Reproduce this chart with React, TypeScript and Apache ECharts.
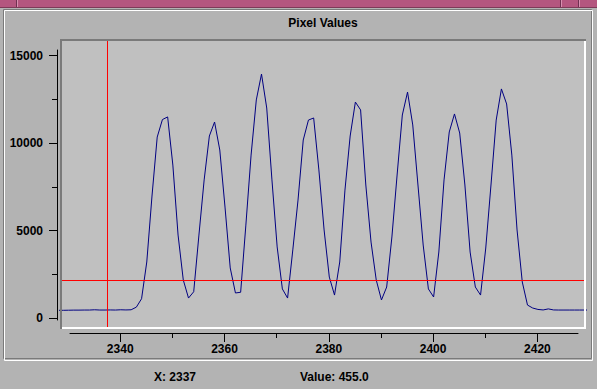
import React, { useEffect, useRef } from "react";
import * as echarts from "echarts";

// ---- data ----
const xValues = [
  2328, 2329, 2330, 2331, 2332, 2333, 2334, 2335, 2336, 2337, 2338, 2339,
  2340, 2341, 2342, 2343, 2344, 2345, 2346, 2347, 2348, 2349, 2350, 2351,
  2352, 2353, 2354, 2355, 2356, 2357, 2358, 2359, 2360, 2361, 2362, 2363,
  2364, 2365, 2366, 2367, 2368, 2369, 2370, 2371, 2372, 2373, 2374, 2375,
  2376, 2377, 2378, 2379, 2380, 2381, 2382, 2383, 2384, 2385, 2386, 2387,
  2388, 2389, 2390, 2391, 2392, 2393, 2394, 2395, 2396, 2397, 2398, 2399,
  2400, 2401, 2402, 2403, 2404, 2405, 2406, 2407, 2408, 2409, 2410, 2411,
  2412, 2413, 2414, 2415, 2416, 2417, 2418, 2419, 2420, 2421, 2422, 2423,
  2424, 2425, 2426, 2427, 2428, 2429, 2430,
];
const pixelValues = [
  440, 440, 445, 450, 450, 455, 455, 470, 455, 455, 460, 455,
  470, 460, 470, 620, 1100, 3200, 6970, 10340, 11340, 11490, 8740, 4740,
  2170, 1140, 1500, 4740, 7890, 10400, 11200, 9600, 6340, 2860, 1430, 1470,
  5310, 9310, 12460, 13940, 12000, 7890, 4060, 1660, 1140, 3890, 6740, 10170,
  11310, 11430, 8460, 5030, 2340, 1310, 3200, 7310, 10400, 12340, 11890, 7600,
  4340, 2170, 1030, 1770, 4630, 8170, 11600, 12910, 11030, 7600, 4170, 1660,
  1200, 3770, 7890, 10630, 11660, 10570, 7600, 3770, 1770, 1310, 4000, 7600,
  11310, 13090, 12230, 9310, 5030, 2060, 740, 570, 490, 460, 520, 460,
  455, 455, 455, 455, 455, 455, 455,
];
const xTickValues = [2340, 2360, 2380, 2400, 2420];
const xMinorTickValues = [2350, 2370, 2390, 2410];
const yTickValues = [0, 5000, 10000, 15000];
const yMinorTickValues = [2500, 7500, 12500];
const thresholdValue = 2170;
const cursorPosition = 2337.43;
const cursorX = 2337;
const cursorValue = 455.0;
const titleText = "Pixel Values";

const FONT = "'Liberation Sans', Arial, Helvetica, sans-serif";

export default function App() {
  const ref = useRef<HTMLDivElement>(null);

  useEffect(() => {
    if (!ref.current) return;
    const chart = echarts.init(ref.current, null, { renderer: "svg" });
    const seriesData = xValues.map((x, i) => [x, pixelValues[i]]);

    const labelStyle = {
      color: "#000",
      fontSize: 12,
      fontWeight: "bold" as const,
      fontFamily: FONT,
    };

    chart.setOption({
      animation: false,
      backgroundColor: "#b3b3b3",
      grid: [
        {
          left: 60,
          top: 39,
          width: 526,
          height: 290,
          show: true,
          backgroundColor: "#c0c0c0",
          borderWidth: 0,
        },
        { left: 70, top: 323, width: 508, height: 10 },
        { left: 57, top: 50, width: 10, height: 270 },
      ],
      xAxis: [
        { gridIndex: 0, type: "value", min: 2328.36, max: 2429.22, show: false },
        {
          gridIndex: 1,
          type: "value",
          min: 2330.374,
          max: 2427.785,
          position: "bottom",
          axisLine: { show: true, lineStyle: { color: "#000", width: 1 } },
          axisTick: {
            show: true,
            customValues: xTickValues,
            length: 9,
            lineStyle: { color: "#000", width: 1 },
          },
          axisLabel: {
            show: true,
            customValues: xTickValues,
            margin: 10,
            formatter: (v: number) => String(v),
            ...labelStyle,
          },
          splitLine: { show: false },
        },
        {
          gridIndex: 1,
          type: "value",
          min: 2330.374,
          max: 2427.785,
          position: "bottom",
          axisLine: { show: false },
          axisTick: {
            show: true,
            customValues: xMinorTickValues,
            length: 5,
            lineStyle: { color: "#000", width: 1 },
          },
          axisLabel: { show: false },
          splitLine: { show: false },
        },
        { gridIndex: 2, type: "value", show: false },
      ],
      yAxis: [
        { gridIndex: 0, type: "value", min: -628.6, max: 15943, show: false },
        { gridIndex: 1, type: "value", show: false },
        {
          gridIndex: 2,
          type: "value",
          min: -114.29,
          max: 15314.3,
          position: "left",
          axisLine: { show: true, lineStyle: { color: "#000", width: 1 } },
          axisTick: {
            show: true,
            customValues: yTickValues,
            length: 8,
            lineStyle: { color: "#000", width: 1 },
          },
          axisLabel: {
            show: true,
            customValues: yTickValues,
            margin: 14,
            formatter: (v: number) => String(v),
            ...labelStyle,
          },
          splitLine: { show: false },
        },
        {
          gridIndex: 2,
          type: "value",
          min: -114.29,
          max: 15314.3,
          position: "left",
          axisLine: { show: false },
          axisTick: {
            show: true,
            customValues: yMinorTickValues,
            length: 5,
            lineStyle: { color: "#000", width: 1 },
          },
          axisLabel: { show: false },
          splitLine: { show: false },
        },
      ],
      series: [
        {
          type: "line",
          xAxisIndex: 0,
          yAxisIndex: 0,
          data: seriesData,
          showSymbol: false,
          symbol: "none",
          lineStyle: { color: "#000080", width: 1 },
          clip: true,
          silent: true,
          markLine: {
            silent: true,
            symbol: "none",
            label: { show: false },
            lineStyle: { color: "#ff0000", width: 1, type: "solid" },
            data: [{ yAxis: thresholdValue }, { xAxis: cursorPosition }],
          },
        },
      ],
      graphic: [
        // top window strip
        { type: "rect", shape: { x: 0, y: 0, width: 597, height: 7 }, style: { fill: "#b4567f" }, z: 5 },
        { type: "rect", shape: { x: 0, y: 7, width: 597, height: 1 }, style: { fill: "#7d3a58" }, z: 5 },
        { type: "rect", shape: { x: 16, y: 0, width: 1, height: 7 }, style: { fill: "#6e3050" }, z: 5 },
        { type: "rect", shape: { x: 17, y: 0, width: 1, height: 7 }, style: { fill: "#d890b0" }, z: 5 },
        { type: "rect", shape: { x: 560, y: 0, width: 1, height: 7 }, style: { fill: "#6e3050" }, z: 5 },
        { type: "rect", shape: { x: 561, y: 0, width: 1, height: 7 }, style: { fill: "#d890b0" }, z: 5 },
        { type: "rect", shape: { x: 578, y: 0, width: 1, height: 7 }, style: { fill: "#6e3050" }, z: 5 },
        { type: "rect", shape: { x: 579, y: 0, width: 1, height: 7 }, style: { fill: "#d890b0" }, z: 5 },
        // etched panel border
        {
          type: "rect",
          shape: { x: 3.5, y: 9.5, width: 588, height: 349 },
          style: { fill: "none", stroke: "#7a7a7a", lineWidth: 1 },
          z: 5,
        },
        {
          type: "rect",
          shape: { x: 4.5, y: 10.5, width: 588, height: 350 },
          style: { fill: "none", stroke: "#ffffff", lineWidth: 1 },
          z: 5,
        },
        // plot bevel
        { type: "rect", shape: { x: 60, y: 39, width: 526, height: 2 }, style: { fill: "#7a7a7a" }, z: 10 },
        { type: "rect", shape: { x: 60, y: 39, width: 2, height: 290 }, style: { fill: "#7a7a7a" }, z: 10 },
        { type: "rect", shape: { x: 62, y: 327, width: 524, height: 2 }, style: { fill: "#ffffff" }, z: 10 },
        { type: "rect", shape: { x: 584, y: 41, width: 2, height: 288 }, style: { fill: "#ffffff" }, z: 10 },
        // title
        {
          type: "text",
          x: 323,
          y: 23,
          style: {
            text: titleText,
            fill: "#000",
            font: `bold 12px ${FONT}`,
            textAlign: "center",
            textVerticalAlign: "middle",
          },
          z: 10,
        },
        // status bar
        {
          type: "text",
          x: 154,
          y: 377,
          style: {
            text: `X: ${cursorX}`,
            fill: "#000",
            font: `bold 12px ${FONT}`,
            textAlign: "left",
            textVerticalAlign: "middle",
          },
          z: 10,
        },
        {
          type: "text",
          x: 300,
          y: 377,
          style: {
            text: `Value: ${cursorValue.toFixed(1)}`,
            fill: "#000",
            font: `bold 12px ${FONT}`,
            textAlign: "left",
            textVerticalAlign: "middle",
          },
          z: 10,
        },
      ],
    });

    return () => {
      chart.dispose();
    };
  }, []);

  return (
    <div
      ref={ref}
      style={{ position: "absolute", left: 0, top: 0, width: 597, height: 389 }}
    />
  );
}
